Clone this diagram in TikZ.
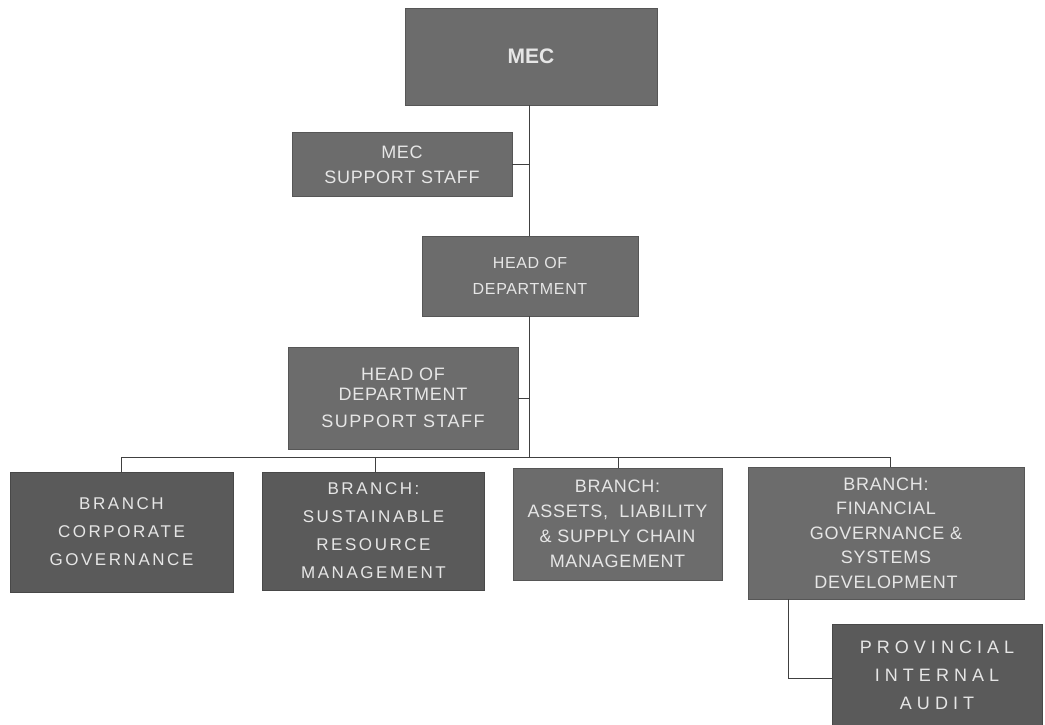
\documentclass[tikz,border=0pt]{standalone}
\usepackage{fontspec}
\setmainfont{Liberation Sans}
\newfontfamily\wideA[LetterSpace=4]{Liberation Sans}
\newfontfamily\wideB[LetterSpace=8]{Liberation Sans}
\newfontfamily\wideC[LetterSpace=15]{Liberation Sans}
\newfontfamily\wideD[LetterSpace=28]{Liberation Sans}
\begin{document}
\begin{tikzpicture}[x=1pt,y=-1pt,
  box/.style={fill=boxgray,draw=boxgray!80!black,text=txtgray,inner sep=0pt,align=center,font=\wideA\fontsize{18}{25}\selectfont},
  dark/.style={box,fill=darkgray,draw=darkgray!80!black},
  conn/.style={draw=black!75,line width=0.8pt}]
\definecolor{boxgray}{HTML}{6C6C6C}
\definecolor{darkgray}{HTML}{5A5A5A}
\definecolor{txtgray}{HTML}{E6E6E6}
\useasboundingbox[fill=white] (0,0) rectangle (1045,724);
\node[box,minimum width=252pt,minimum height=97pt,font=\bfseries\fontsize{21}{24}\selectfont] (mec) at (531,56.5) {MEC};
\node[box,minimum width=220pt,minimum height=64pt] (mecss) at (402,164.5) {MEC\\SUPPORT STAFF};
\node[box,minimum width=216pt,minimum height=80pt,font=\wideA\fontsize{16}{26}\selectfont] (hod) at (530,276) {HEAD OF\\DEPARTMENT};
\node[box,minimum width=230pt,minimum height=102pt,font=\wideA\fontsize{18}{20}\selectfont] (hodss) at (403,398) {HEAD OF\\DEPARTMENT\\[7pt]{\wideB SUPPORT STAFF}};
\node[dark,minimum width=223pt,minimum height=120pt,font=\wideC\fontsize{17}{28}\selectfont] (b1) at (121.5,532) {BRANCH\\CORPORATE\\GOVERNANCE};
\node[dark,minimum width=222pt,minimum height=118pt,font=\wideC\fontsize{17}{28}\selectfont] (b2) at (373.5,531) {BRANCH:\\SUSTAINABLE\\RESOURCE\\MANAGEMENT};
\node[box,minimum width=209pt,minimum height=112pt,font=\wideA\fontsize{18}{25}\selectfont] (b3) at (617.5,524) {BRANCH:\\ASSETS,\ \ LIABILITY\\\& SUPPLY CHAIN\\MANAGEMENT};
\node[box,minimum width=276pt,minimum height=132pt,font=\wideA\fontsize{18}{24.5}\selectfont] (b4) at (886,533) {BRANCH:\\FINANCIAL\\GOVERNANCE \&\\SYSTEMS\\DEVELOPMENT};
\node[dark,minimum width=210pt,minimum height=102pt,font=\wideD\fontsize{18}{28}\selectfont] (pia) at (937,675) {PROVINCIAL\\INTERNAL\\AUDIT};
\coordinate (bus) at (529,457);
\coordinate (busl) at (121,457);
\coordinate (busr) at (890,457);
\coordinate (pcorner) at (788,678);
\draw[conn] (mec.south -| 529,0) -- (hod.north -| 529,0);
\draw[conn] (mecss.east) -- (mecss.east -| 529,0);
\draw[conn] (hod.south -| 529,0) -- (bus);
\draw[conn] (hodss.east) -- (hodss.east -| 529,0);
\draw[conn] (busl) -- (busr);
\draw[conn] (busl) -- (b1.north -| busl);
\draw[conn] (375,457) -- (b2.north -| 375,0);
\draw[conn] (618,457) -- (b3.north -| 618,0);
\draw[conn] (busr) -- (b4.north -| busr);
\draw[conn] (b4.south -| pcorner) -- (pcorner) -- (pia.west |- pcorner);
\end{tikzpicture}
\end{document}
